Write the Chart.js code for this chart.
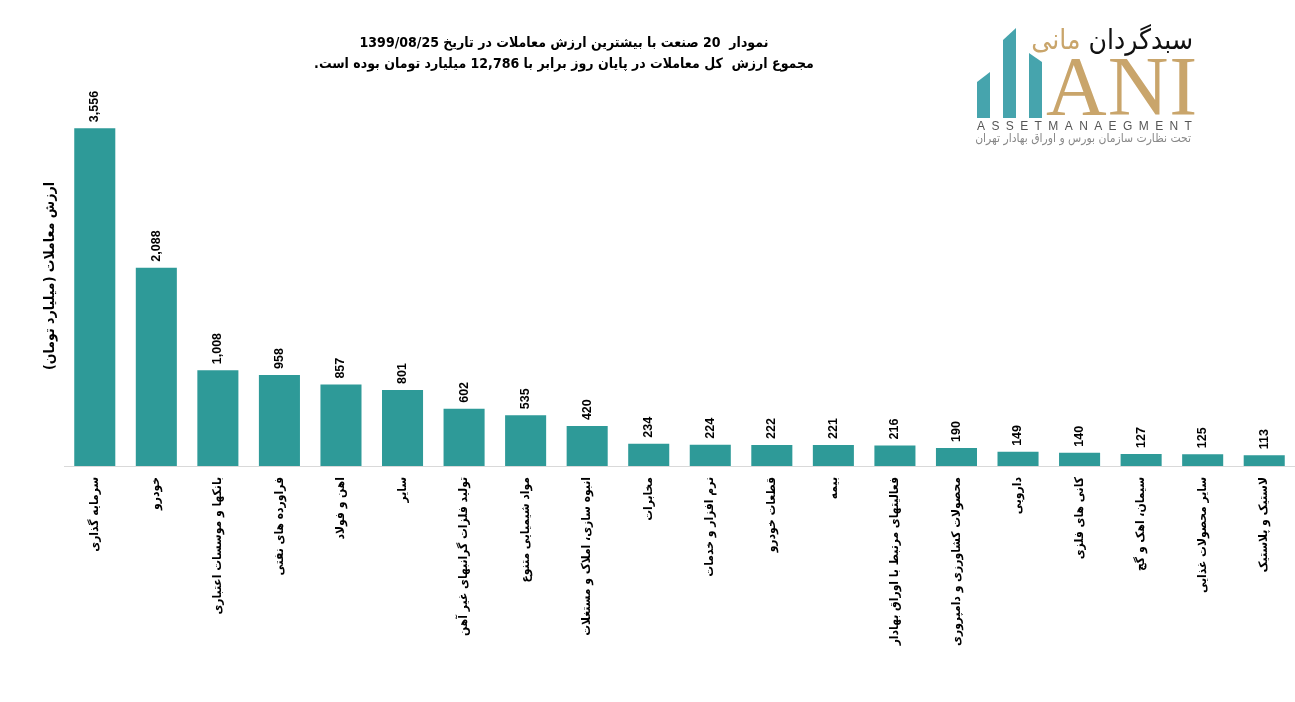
<!DOCTYPE html>
<html>
<head>
<meta charset="utf-8">
<script src="https://cdn.jsdelivr.net/npm/chart.js@4/dist/chart.umd.min.js"></script>
<style>
  body { margin: 0; background: #fff; }
  #wrap { position: relative; width: 1295px; height: 702px; }
  #title {
    position: absolute; left: 264px; top: 32px; width: 600px;
    text-align: center; direction: rtl;
    font: bold 14px "DejaVu Sans Condensed", "DejaVu Sans", sans-serif;
    line-height: 21px; color: #000;
  }
  .logo-fa {
    position: absolute; right: 102px; top: 23px; direction: rtl;
    font: 28px "DejaVu Sans Condensed", "DejaVu Sans", sans-serif; color: #111;
  }
  .logo-fa span { color: #c9a56b; }
  .logo-ani {
    position: absolute; left: 1046px; top: 45px;
    font: 84px "Liberation Serif", "DejaVu Serif", serif; color: #c9a56b;
    line-height: 84px; letter-spacing: 1px;
  }
  .logo-en {
    position: absolute; left: 977px; top: 119px;
    font: 12px "Liberation Sans", Arial, sans-serif; color: #555;
    letter-spacing: 6.4px;
  }
  .logo-sub {
    position: absolute; right: 104px; top: 131px; direction: rtl;
    font: 12px "DejaVu Sans Condensed", "DejaVu Sans", sans-serif; color: #888;
  }
</style>
</head>
<body>
<div id="wrap">
  <canvas id="industryChart" dir="rtl"></canvas>
  <div id="title">نمودار&nbsp; 20 صنعت با بیشترین ارزش معاملات در تاریخ 1399/08/25<br>مجموع ارزش&nbsp; کل معاملات در پایان روز برابر با 12,786 میلیارد تومان بوده است.</div>
  <svg style="position:absolute;left:0;top:0" width="1295" height="150">
    <polygon points="977,82 990,72 990,118 977,118" fill="#46a4ad"/>
    <polygon points="1003,40 1016,28 1016,118 1003,118" fill="#46a4ad"/>
    <polygon points="1029,53 1042,62 1042,118 1029,118" fill="#46a4ad"/>
  </svg>
  <div class="logo-fa">سبدگردان <span>مانی</span></div>
  <div class="logo-ani">ANI</div>
  <div class="logo-en">ASSETMANAEGMENT</div>
  <div class="logo-sub">تحت نظارت سازمان بورس و اوراق بهادار تهران</div>
</div>
<script>
const industries = [
  'سرمایه گذاری', 'خودرو', 'بانکها و موسسات اعتباری', 'فراورده های نفتی',
  'اهن و فولاد', 'سایر', 'تولید فلزات گرانبهای غیر آهن', 'مواد شیمیایی متنوع',
  'انبوه سازی، املاک و مستغلات', 'مخابرات', 'نرم افزار و خدمات', 'قطعات خودرو',
  'بیمه', 'فعالیتهای مرتبط با اوراق بهادار', 'محصولات کشاورزی و دامپروری', 'دارویی',
  'کانی های فلزی', 'سیمان، اهک و گچ', 'سایر محصولات غذایی', 'لاستیک و پلاستیک'
];
const tradeValues = [3556, 2088, 1008, 958, 857, 801, 602, 535, 420, 234, 224, 222, 221, 216, 190, 149, 140, 127, 125, 113];
const yAxisTitle = 'ارزش معاملات (میلیارد تومان)';

// draw the value above each bar, rotated like the x labels
const barLabels = {
  id: 'barLabels',
  afterDatasetsDraw(chart) {
    const ctx = chart.ctx;
    const meta = chart.getDatasetMeta(0);
    ctx.save();
    ctx.font = 'bold 12.5px "Liberation Sans", Arial, sans-serif';
    ctx.fillStyle = '#000';
    ctx.textAlign = 'left';
    ctx.textBaseline = 'middle';
    meta.data.forEach((bar, i) => {
      ctx.save();
      ctx.translate(bar.x, bar.y - 6);
      ctx.rotate(-Math.PI / 2);
      ctx.fillText(tradeValues[i].toLocaleString('en-US'), 0, 0);
      ctx.restore();
    });
    ctx.restore();
  }
};

const ctx = document.getElementById('industryChart').getContext('2d');
new Chart(ctx, {
  type: 'bar',
  data: {
    labels: industries,
    datasets: [{
      data: tradeValues,
      backgroundColor: '#2e9a98',
      categoryPercentage: 0.667,
      barPercentage: 1
    }]
  },
  options: {
    responsive: true,
    maintainAspectRatio: false,
    animation: false,
    layout: { padding: { top: 86, left: 0, right: 0, bottom: 0 } },
    plugins: {
      legend: { display: false },
      tooltip: { enabled: false }
    },
    scales: {
      x: {
        grid: { display: false },
        border: { display: true, color: '#d9d9d9', width: 1 },
        ticks: {
          autoSkip: false,
          minRotation: 90,
          maxRotation: 90,
          padding: 3,
          color: '#000',
          font: { family: '"DejaVu Sans Condensed", "DejaVu Sans", sans-serif', size: 12, weight: 'bold' }
        },
        afterFit(scale) { scale.height = 236; }
      },
      y: {
        min: 0,
        max: 4000,
        grid: { display: false },
        border: { display: false },
        ticks: { display: false },
        title: {
          display: true,
          text: yAxisTitle,
          color: '#000',
          padding: { top: 42, bottom: 0 },
          font: { family: '"DejaVu Sans Condensed", "DejaVu Sans", sans-serif', size: 14, weight: 'bold' }
        },
        afterFit(scale) { scale.width = 64; }
      }
    }
  },
  plugins: [barLabels]
});
</script>
</body>
</html>
